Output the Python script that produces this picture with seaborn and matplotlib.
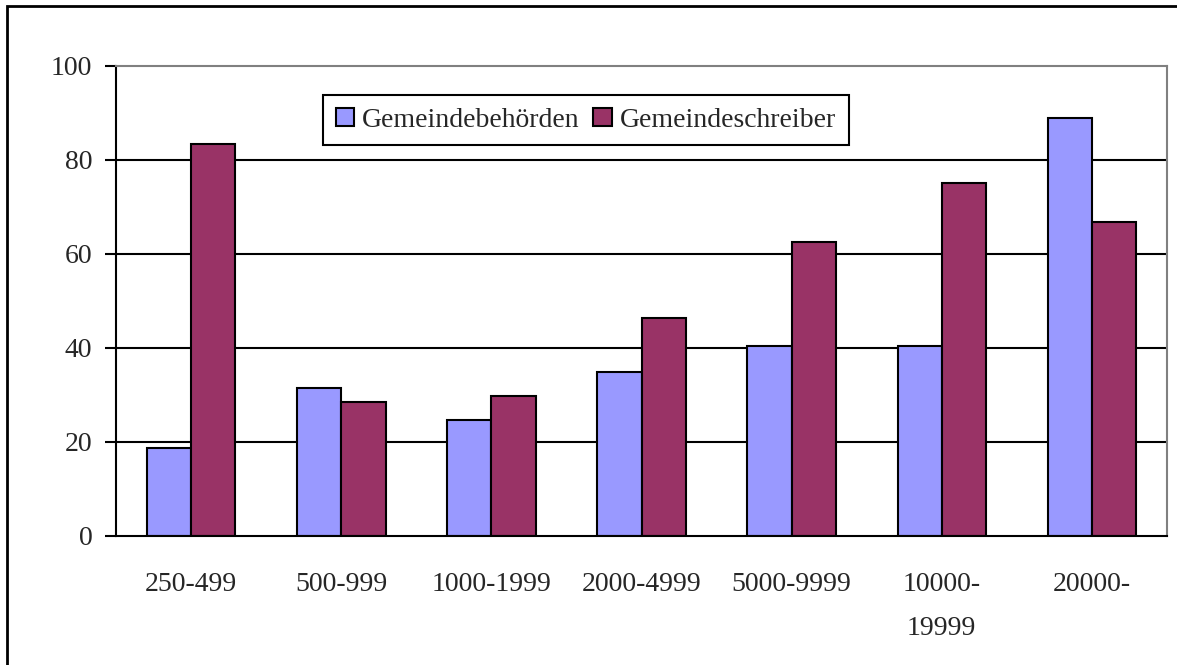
import pandas as pd
import numpy as np
import matplotlib
matplotlib.use('Agg')
import matplotlib.pyplot as plt
from matplotlib.patches import Rectangle
import seaborn as sns

# Data
groessen = ['250-499', '500-999', '1000-1999', '2000-4999', '5000-9999', '10000-19999', '20000-']
tick_labels = ['250-499', '500-999', '1000-1999', '2000-4999', '5000-9999', '10000-\n19999', '20000-']
behoerden = [18.7, 31.4, 24.6, 34.8, 40.4, 40.4, 88.9]
schreiber = [83.3, 28.5, 29.7, 46.3, 62.5, 75.0, 66.7]
serien = ['Gemeindebehörden', 'Gemeindeschreiber']
farben = ['#9999FF', '#993366']

df = pd.DataFrame({
    'Groesse': groessen * 2,
    'Wert': behoerden + schreiber,
    'Gruppe': [serien[0]] * len(groessen) + [serien[1]] * len(groessen),
})

sns.set_style('white')
plt.rcParams['font.family'] = ['Liberation Serif', 'DejaVu Serif']

fig = plt.figure(figsize=(11.77, 6.65), dpi=100)
ax = fig.add_axes([0.0986, 0.194, 0.8929, 0.7068])

sns.barplot(data=df, x='Groesse', y='Wert', hue='Gruppe', order=groessen,
            hue_order=serien, palette=farben, saturation=1, width=0.59,
            edgecolor='black', linewidth=1.5, ax=ax, legend=True)

ax.set_xlim(-0.5, len(groessen) - 0.5)
ax.set_ylim(0, 100)
ax.set_yticks([0, 20, 40, 60, 80, 100])
ax.set_xlabel('')
ax.set_ylabel('')

# grid lines in black, behind bars
ax.set_axisbelow(True)
for v in [20, 40, 60, 80]:
    ax.axhline(v, color='black', lw=1.5, zorder=0)

# spines
for s in ['left', 'bottom']:
    ax.spines[s].set_color('black')
    ax.spines[s].set_linewidth(1.5)
for s in ['top', 'right']:
    ax.spines[s].set_color('#808080')
    ax.spines[s].set_linewidth(1.5)

# ticks: labels at category centres, tick marks at category boundaries
ax.set_xticks(range(len(groessen)))
ax.set_xticklabels(tick_labels, fontsize=20, linespacing=2.0, va='top')
ax.tick_params(axis='x', which='major', length=0, pad=26)
ax.set_xticks(np.arange(-0.5, len(groessen)), minor=True)
ax.tick_params(axis='x', which='minor', length=10, width=1.5, color='black', direction='out')
ax.tick_params(axis='y', length=8, width=1.5, color='black', direction='out', labelsize=20, pad=9)
ax.tick_params(bottom=True, left=True)
ax.tick_params(axis='x', which='major', bottom=False)

# legend
handles, labels = ax.get_legend_handles_labels()
ax.legend(handles, labels, ncol=2, loc='upper left', bbox_to_anchor=(0.197, 0.938),
          borderaxespad=0, frameon=True, fancybox=False, framealpha=1,
          edgecolor='black', fontsize=20, handlelength=0.65, handleheight=0.65,
          handletextpad=0.3, columnspacing=0.5, borderpad=0.45)
ax.get_legend().get_frame().set_linewidth(1.5)

# outer chart frame (cut off at right and bottom)
fig.patches.append(Rectangle((0.006, -0.1), 1.2, 1.091, transform=fig.transFigure,
                             fill=False, edgecolor='black', linewidth=2))

fig.savefig('out.png', dpi=100)
